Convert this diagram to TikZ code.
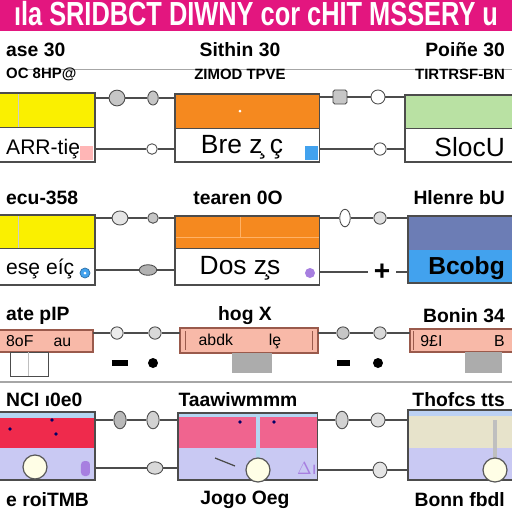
\documentclass[tikz,border=0pt]{standalone}
\usepackage{fontspec}
\setmainfont{Liberation Sans}
\usetikzlibrary{positioning, calc, shapes.geometric}

\definecolor{banner}{HTML}{E3167F}
\definecolor{boxyellow}{HTML}{FAF000}
\definecolor{boxorange}{HTML}{F5891F}
\definecolor{boxgreen}{HTML}{B9E1A3}
\definecolor{boxslate}{HTML}{6C7DB5}
\definecolor{boxblue}{HTML}{42A2EE}
\definecolor{boxsalmon}{HTML}{F8B9A8}
\definecolor{saltrim}{HTML}{9A5A4C}
\definecolor{boxred}{HTML}{EF2A4C}
\definecolor{boxpink}{HTML}{F0648F}
\definecolor{boxlav}{HTML}{C9C9F3}
\definecolor{boxbeige}{HTML}{E7E3CB}
\definecolor{strip}{HTML}{B4D6F2}
\definecolor{dotpurple}{HTML}{A77FE0}

\tikzset{
  boxframe/.style={draw=gray!60!black, line width=0.6pt, inner sep=0pt, outer sep=0pt, anchor=north west},
  saltframe/.style={boxframe, draw=saltrim, line width=0.8pt},
  port/.style={circle, draw=black!70, fill=gray!45, line width=0.5pt, inner sep=0pt, minimum size=6pt},
  ring/.style={port, fill=white},
  oval/.style={port, ellipse, minimum width=6pt, minimum height=8pt},
  wire/.style={draw=gray!60!black, line width=0.6pt},
  title/.style={font=\bfseries\fontsize{11}{11}\selectfont},
  subtitle/.style={font=\bfseries\fontsize{8.5}{9}\selectfont},
  boxtext/.style={font=\fontsize{12}{12}\selectfont}
}

\begin{document}
\begin{tikzpicture}[x=0.02cm, y=-0.02cm]
    \useasboundingbox (0,0) rectangle (512,512);
    \clip (0,0) rectangle (512,512);
    \fill[white] (0,0) rectangle (512,512);

    % Banner
    \fill[banner] (0,0) rectangle (512,31);
    \node[text=white, font=\bfseries\fontsize{19}{19}\selectfont, xscale=0.76] (head) at (256,14) {\i la SRIDBCT DIWNY cor cHIT MSSERY u};

    % Row 1: titles
    \node[title, anchor=west] (t1l) at (0,50) {ase 30};
    \node[title] (t1c) at (240,50) {Sithin 30};
    \node[title, anchor=east] (t1r) at (511,50) {Poi\~ne 30};
    \draw[gray!70, line width=0.5pt] (20,69) -- (512,69);
    \node[subtitle, anchor=west] (s1l) at (0,74) {OC 8HP@};
    \node[subtitle] (s1c) at (240,74) {ZIMOD TPVE};
    \node[subtitle, anchor=east] (s1r) at (511,74) {TIRTRSF-BN};

    % Row 1: boxes
    \fill[boxyellow] (-5,93) rectangle (95,127);
    \draw[gray!40] (18,93) -- (18,127);
    \fill[boxorange] (175,94) rectangle (320,128);
    \fill[white] (240,111) circle (1.5);
    \fill[boxgreen] (405,95) rectangle (515,128);
    \node[boxframe, minimum width=2cm, minimum height=1.38cm] (b1l) at (-5,93) {};
    \node[boxframe, minimum width=2.9cm, minimum height=1.36cm] (b1c) at (175,94) {};
    \node[boxframe, minimum width=2.2cm, minimum height=1.34cm] (b1r) at (405,95) {};
    \draw[gray!60!black] (-5,127) -- (95,127) (175,128) -- (320,128) (405,128) -- (515,128);
    \node[boxtext, anchor=west] (x1l) at (0,149) {ARR-ti\c{e}};
    \fill[pink!70!red!60] (80,146) rectangle (93,160);
    \node[boxtext, font=\fontsize{15}{15}\selectfont] (x1c) at (242,147) {Bre \c{z} \c{c}};
    \fill[boxblue] (305,146) rectangle (318,160);
    \node[boxtext, font=\fontsize{15}{15}\selectfont, anchor=east] (x1r) at (511,147) {SlocU};

    % Row 1: connectors
    \node[port, minimum size=9pt] (p1a) at (117,98) {};
    \node[oval] (p1b) at (153,98) {};
    \node[port, rectangle, rounded corners=1pt, minimum size=8pt] (p1c) at (340,97) {};
    \node[ring, minimum size=8pt] (p1d) at (378,97) {};
    \node[ring] (p1e) at (152,149) {};
    \node[ring, minimum size=7pt] (p1f) at (380,149) {};
    \draw[wire] (b1l.east |- p1a) -- (p1a) -- (p1b) -- (b1c.west |- p1b);
    \draw[wire] (b1c.east |- p1c) -- (p1c) -- (p1d) -- (b1r.west |- p1d);
    \draw[wire] (b1l.east |- p1e) -- (p1e) -- (b1c.west |- p1e);
    \draw[wire] (b1c.east |- p1f) -- (p1f) -- (b1r.west |- p1f);

    % Row 2: titles
    \node[title, anchor=west] (t2l) at (0,198) {ecu-358};
    \node[title] (t2c) at (238,198) {tearen 0O};
    \node[title, anchor=east] (t2r) at (511,198) {Hlenre bU};

    % Row 2: boxes
    \fill[boxyellow] (-5,215) rectangle (95,248);
    \draw[gray!40] (18,215) -- (18,248);
    \fill[boxorange] (175,216) rectangle (320,248);
    \draw[orange!60] (175,237) -- (320,237) (240,216) -- (240,237);
    \fill[boxslate] (408,216) rectangle (515,250);
    \fill[boxblue] (408,250) rectangle (515,283);
    \node[boxframe, minimum width=2cm, minimum height=1.4cm] (b2l) at (-5,215) {};
    \node[boxframe, minimum width=2.9cm, minimum height=1.38cm] (b2c) at (175,216) {};
    \node[boxframe, minimum width=2.14cm, minimum height=1.34cm] (b2r) at (408,216) {};
    \draw[gray!60!black] (-5,248) -- (95,248) (175,248) -- (320,248);
    \node[boxtext, anchor=west] (x2l) at (0,269) {es\c{e} e\' \i\c{c}};
    \filldraw[fill=boxblue, draw=boxblue!70!black] (85,273) circle (5);
    \fill[white] (85,273) circle (1.5);
    \node[boxtext, font=\fontsize{15}{15}\selectfont] (x2c) at (240,268) {Dos \c{z}s};
    \fill[dotpurple] (310,273) circle (5);
    \node[boxtext, font=\bfseries\fontsize{14}{14}\selectfont, anchor=east] (x2r) at (511,268) {Bcobg};

    % Row 2: connectors
    \node[oval, fill=gray!20, minimum width=9pt] (p2a) at (120,218) {};
    \node[port] (p2b) at (153,218) {};
    \node[oval, fill=white, minimum height=10pt] (p2c) at (345,218) {};
    \node[port, fill=gray!25, minimum size=7pt] (p2d) at (380,218) {};
    \node[oval, fill=gray!60, minimum width=10pt, minimum height=6pt] (p2e) at (148,270) {};
    \node[font=\bfseries\fontsize{16}{16}\selectfont] (p2f) at (382,272) {+};
    \draw[wire] (b2l.east |- p2a) -- (p2a) -- (p2b) -- (b2c.west |- p2b);
    \draw[wire] (b2c.east |- p2c) -- (p2c) -- (p2d) -- (b2r.west |- p2d);
    \draw[wire] (b2l.east |- p2e) -- (p2e) -- (b2c.west |- p2e);
    \draw[wire] (b2c.east |- p2f) -- (p2f) -- (b2r.west |- p2f);

    % Row 3: titles
    \node[title, anchor=west] (t3l) at (0,316) {ate pIP};
    \node[title] (t3c) at (245,316) {hog X};
    \node[title, anchor=east] (t3r) at (511,316) {Bonin 34};

    % Row 3: boxes and tabs
    \fill[boxsalmon] (-5,330) rectangle (93,352);
    \fill[boxsalmon] (180,328) rectangle (318,353);
    \fill[boxsalmon] (410,329) rectangle (515,352);
    \node[saltframe, minimum width=1.96cm, minimum height=0.44cm] (b3l) at (-5,330) {};
    \node[saltframe, minimum width=2.76cm, minimum height=0.5cm] (b3c) at (180,328) {};
    \node[saltframe, minimum width=2.1cm, minimum height=0.46cm] (b3r) at (410,329) {};
    \draw[saltrim] (185,331) -- (185,350) (312,331) -- (312,350) (413,331) -- (413,350);
    \draw[gray!60!black, fill=white] (10,352) rectangle (48,376);
    \draw[gray!50] (28,352) -- (28,376);
    \fill[gray!65] (232,353) rectangle (272,373);
    \fill[gray!65] (465,352) rectangle (502,373);
    \node[font=\fontsize{9}{9}\selectfont, anchor=west] (x3l) at (0,341) {8oF \quad au};
    \node[font=\fontsize{9}{9}\selectfont] (x3c) at (240,341) {abdk \qquad l\c{e}};
    \node[font=\fontsize{9}{9}\selectfont, anchor=east] (x3r) at (511,341) {9\pounds I \qquad\quad B};

    % Row 3: connectors
    \node[ring, fill=gray!15, minimum size=7pt] (p3a) at (117,333) {};
    \node[port, fill=gray!30, minimum size=7pt] (p3b) at (155,333) {};
    \node[port, minimum size=7pt] (p3c) at (343,333) {};
    \node[port, fill=gray!30, minimum size=7pt] (p3d) at (380,333) {};
    \draw[wire] (b3l.east |- p3a) -- (p3a) -- (p3b) -- (b3c.west |- p3b);
    \draw[wire] (b3c.east |- p3c) -- (p3c) -- (p3d) -- (b3r.west |- p3d);
    \foreach \xa/\xb/\xc in {112/128/153, 337/350/378} {
        \draw[line width=3pt] (\xa,363) -- (\xb,363);
        \fill (\xc,363) circle (5);
    }
    \draw[gray!70, line width=0.8pt] (0,382) -- (512,382);

    % Row 4: titles
    \node[title, anchor=west] (t4l) at (0,400) {NCI \i0e0};
    \node[title] (t4c) at (238,400) {Taawiwmmm};
    \node[title, anchor=east] (t4r) at (511,400) {Thofcs tts};

    % Row 4: boxes
    \fill[boxlav] (-5,412) rectangle (95,480);
    \fill[strip] (-5,412) rectangle (95,418);
    \fill[boxred] (-5,418) rectangle (95,448);
    \fill[boxlav] (178,413) rectangle (318,480);
    \fill[strip] (178,413) rectangle (318,417);
    \fill[boxpink] (178,417) rectangle (318,448);
    \fill[boxlav] (408,410) rectangle (515,480);
    \fill[strip!60!boxlav] (408,410) rectangle (515,416);
    \fill[boxbeige] (408,416) rectangle (515,448);
    \foreach \px/\py in {52/420, 56/434, 10/429, 240/422, 274/422} {
        \fill[blue!40!black] (\px,\py) circle (1.8);
    }
    \fill[strip] (256,417) rectangle (260,458);
    \fill[gray!50] (493,420) rectangle (497,458);
    \draw[black!70, line width=0.7pt] (215,458) -- (235,466);
    \node[boxframe, minimum width=2cm, minimum height=1.36cm] (b4l) at (-5,412) {};
    \node[boxframe, minimum width=2.8cm, minimum height=1.34cm] (b4c) at (178,413) {};
    \node[boxframe, minimum width=2.14cm, minimum height=1.4cm] (b4r) at (408,410) {};
    \foreach \cx/\cy in {35/467, 258/470, 495/470} {
        \filldraw[fill=white!90!yellow, draw=gray!70!black, line width=0.7pt] (\cx,\cy) circle (12);
    }
    \fill[dotpurple, rounded corners=2pt] (81,461) rectangle (90,476);
    \node[text=dotpurple, font=\fontsize{10}{10}\selectfont] (x4c) at (307,468) {$\Delta$\i};

    % Row 4: connectors
    \node[oval, fill=gray!55, minimum width=7pt, minimum height=10pt] (p4a) at (120,420) {};
    \node[oval, fill=gray!35, minimum width=7pt, minimum height=10pt] (p4b) at (153,420) {};
    \node[oval, fill=gray!35, minimum width=7pt, minimum height=10pt] (p4c) at (342,420) {};
    \node[oval, fill=gray!25, minimum width=8pt, minimum height=8pt] (p4d) at (378,420) {};
    \node[oval, fill=gray!30, minimum width=9pt, minimum height=7pt] (p4e) at (155,468) {};
    \node[oval, fill=gray!20, minimum width=8pt, minimum height=9pt] (p4f) at (380,470) {};
    \draw[wire] (b4l.east |- p4a) -- (p4a) -- (p4b) -- (b4c.west |- p4b);
    \draw[wire] (b4c.east |- p4c) -- (p4c) -- (p4d) -- (b4r.west |- p4d);
    \draw[wire] (b4l.east |- p4e) -- (p4e) -- (b4c.west |- p4e);
    \draw[wire] (b4c.east |- p4f) -- (p4f) -- (b4r.west |- p4f);

    % Bottom labels
    \node[title, anchor=west] (u4l) at (0,500) {e roiTMB};
    \node[title] (u4c) at (245,500) {Jogo Oeg};
    \node[title, anchor=east] (u4r) at (511,500) {Bonn fbdl};
\end{tikzpicture}
\end{document}
